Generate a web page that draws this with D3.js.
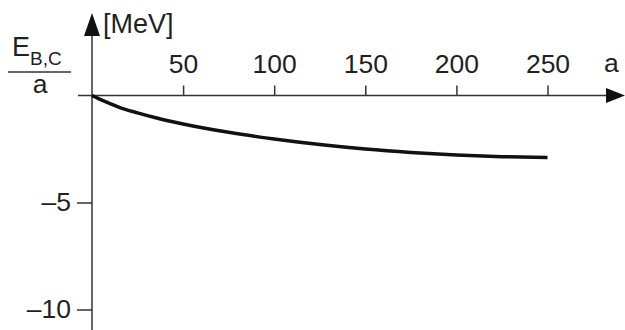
<!DOCTYPE html>
<html>
<head>
<meta charset="utf-8">
<script src="https://cdn.jsdelivr.net/npm/d3@7"></script>
<style>
  body { margin: 0; background: #fff; }
  svg text { font-family: "Liberation Sans", Arial, Helvetica, sans-serif; fill: #231f20; }
</style>
</head>
<body>
<div id="chart"></div>
<script>
// mass number a and Coulomb energy per nucleon (MeV)
const massNumbers = [0, 2, 5, 9, 15, 25, 35, 50, 75, 100, 125, 150, 175, 200, 225, 250];
const energyPerNucleon = [0, -0.08, -0.2, -0.34, -0.55, -0.81, -1.04, -1.33, -1.72, -2.03, -2.29, -2.5, -2.66, -2.78, -2.86, -2.9];
const xTicks = [50, 100, 150, 200, 250];
const yTicks = [-5, -10];

const width = 625, height = 330;
const fontSize = 26.5;

const svg = d3.select("#chart").append("svg")
    .attr("width", width)
    .attr("height", height);

const x = d3.scaleLinear().domain([0, 250]).range([92, 547.5]);
const y = d3.scaleLinear().domain([0, -10]).range([95.5, 309.5]);

const axisColor = "#333";

// axis lines
svg.append("line")
    .attr("x1", 78).attr("x2", 608)
    .attr("y1", y(0)).attr("y2", y(0))
    .attr("stroke", axisColor).attr("stroke-width", 1.5);

svg.append("line")
    .attr("x1", x(0)).attr("x2", x(0))
    .attr("y1", 34).attr("y2", height)
    .attr("stroke", axisColor).attr("stroke-width", 1.5);

// arrow heads
svg.append("path")
    .attr("d", `M606,${y(0) - 7.5} L625,${y(0)} L606,${y(0) + 7.5} Z`)
    .attr("fill", "#111");

svg.append("path")
    .attr("d", `M${x(0) - 8},36 L${x(0)},13 L${x(0) + 8},36 Z`)
    .attr("fill", "#111");

// x ticks (pointing up, labels above)
svg.append("g")
    .attr("transform", `translate(0,${y(0)})`)
    .call(d3.axisTop(x).tickValues(xTicks).tickSize(10).tickPadding(13))
    .call(g => g.select(".domain").remove())
    .call(g => g.selectAll(".tick line").attr("stroke", axisColor).attr("stroke-width", 1.5))
    .call(g => g.selectAll(".tick text").attr("font-size", fontSize).attr("font-family", null).attr("fill", null));

// y ticks
svg.append("g")
    .attr("transform", `translate(${x(0)},0)`)
    .call(d3.axisLeft(y).tickValues(yTicks).tickSize(15).tickPadding(6)
        .tickFormat(d => "\u2013" + Math.abs(d)))
    .call(g => g.select(".domain").remove())
    .call(g => g.selectAll(".tick line").attr("stroke", axisColor).attr("stroke-width", 1.5))
    .call(g => g.selectAll(".tick text").attr("font-size", fontSize).attr("font-family", null).attr("fill", null));

// curve
const line = d3.line()
    .x((d, i) => x(massNumbers[i]))
    .y(d => y(d))
    .curve(d3.curveMonotoneX);

svg.append("path")
    .datum(energyPerNucleon)
    .attr("d", line)
    .attr("fill", "none")
    .attr("stroke", "#111")
    .attr("stroke-width", 3.5);

// axis labels
svg.append("text")
    .attr("x", 604).attr("y", 72)
    .attr("font-size", fontSize)
    .text("a");

svg.append("text")
    .attr("x", 103).attr("y", 33)
    .attr("font-size", 27)
    .text("[MeV]");

const frac = svg.append("text")
    .attr("x", 12).attr("y", 56)
    .attr("font-size", 27);
frac.append("tspan").text("E");
frac.append("tspan")
    .attr("font-size", 19)
    .attr("dy", 9)
    .text("B,C");

svg.append("line")
    .attr("x1", 8).attr("x2", 71)
    .attr("y1", 72).attr("y2", 72)
    .attr("stroke", axisColor).attr("stroke-width", 1.5);

svg.append("text")
    .attr("x", 40).attr("y", 93)
    .attr("text-anchor", "middle")
    .attr("font-size", fontSize)
    .text("a");
</script>
</body>
</html>
